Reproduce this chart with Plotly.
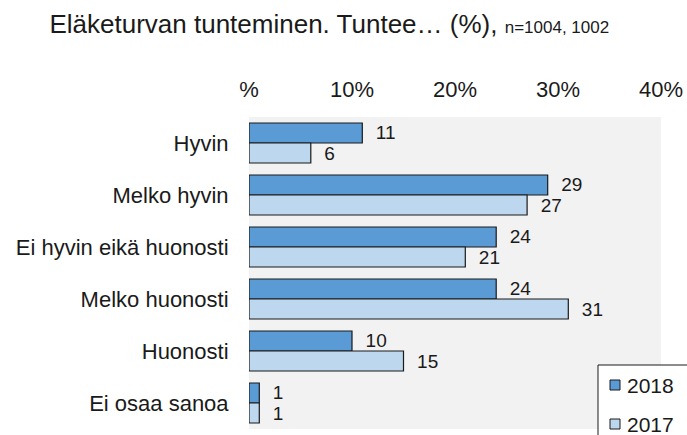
import plotly.graph_objects as go

categories = ["Hyvin", "Melko hyvin", "Ei hyvin eikä huonosti", "Melko huonosti", "Huonosti", "Ei osaa sanoa"]
values_2018 = [11, 29, 24, 24, 10, 1]
values_2017 = [6, 27, 21, 31, 15, 1]
series_names = ["2018", "2017"]
series_colors = ["#5B9BD5", "#BDD7EE"]
tick_vals = [0, 10, 20, 30, 40]
tick_text = ["%", "10%", "20%", "30%", "40%"]

FONT = "Liberation Sans, Arial, sans-serif"
W, H = 687, 435
ML, MR, MT, MB = 249, 26, 117, 6
PW, PH = W - ML - MR, H - MT - MB


def px2x(px):
    return (px - ML) / PW


def py2y(py):
    return (H - MB - py) / PH


fig = go.Figure()
for name, vals, col in zip(series_names, [values_2018, values_2017], series_colors):
    fig.add_trace(go.Bar(
        y=categories, x=vals, name=name, orientation="h",
        marker=dict(color=col, line=dict(color="#1a1a1a", width=1.2)),
        text=["  " + str(v) for v in vals], textposition="outside",
        textfont=dict(size=19, color="#1a1a1a", family=FONT),
        constraintext="none", cliponaxis=False, showlegend=False,
    ))

# manual legend (cut off by the page edge as in the reference)
shapes = [dict(type="rect", xref="paper", yref="paper",
               x0=px2x(598), x1=px2x(700), y0=py2y(450), y1=py2y(365),
               fillcolor="white", line=dict(color="#1a1a1a", width=1), layer="above")]
annotations = []
for i, (name, col) in enumerate(zip(series_names, series_colors)):
    cy = 385 + i * 39
    shapes.append(dict(type="rect", xref="paper", yref="paper",
                       x0=px2x(610), x1=px2x(620), y0=py2y(cy + 5), y1=py2y(cy - 5),
                       fillcolor=col, line=dict(color="#1a1a1a", width=1), layer="above"))
    annotations.append(dict(text=name, xref="paper", yref="paper",
                            x=px2x(625), y=py2y(cy), xanchor="left", yanchor="middle",
                            showarrow=False, font=dict(size=21, family=FONT, color="#1a1a1a")))

fig.update_layout(
    width=W, height=H,
    margin=dict(l=ML, r=MR, t=MT, b=MB, autoexpand=False),
    paper_bgcolor="white", plot_bgcolor="#F2F2F2",
    barmode="group", bargap=0.23, bargroupgap=0.0,
    font=dict(family=FONT, color="#1a1a1a"),
    showlegend=False,
    shapes=shapes, annotations=annotations,
    xaxis=dict(
        side="top", range=[0, 40], tickvals=tick_vals, ticktext=tick_text,
        showgrid=False, zeroline=False, showline=False,
        ticks="outside", ticklen=10, tickcolor="rgba(0,0,0,0)",
        tickfont=dict(size=22, family=FONT),
    ),
    yaxis=dict(
        categoryorder="array", categoryarray=categories, autorange="reversed",
        showgrid=False, zeroline=False, showline=False,
        ticks="outside", ticklen=15, tickcolor="rgba(0,0,0,0)",
        tickfont=dict(size=22, family=FONT),
    ),
    title=dict(
        text="Eläketurvan tunteminen. Tuntee… (%), <span style='font-size:17px'>n=1004, 1002</span>",
        x=0.072, xanchor="left", y=0.946, yanchor="middle",
        font=dict(size=26, family=FONT),
    ),
)

fig.write_html("out.html", config={"displayModeBar": False},
               post_script="document.body.style.margin='0';document.body.style.overflow='hidden';")
